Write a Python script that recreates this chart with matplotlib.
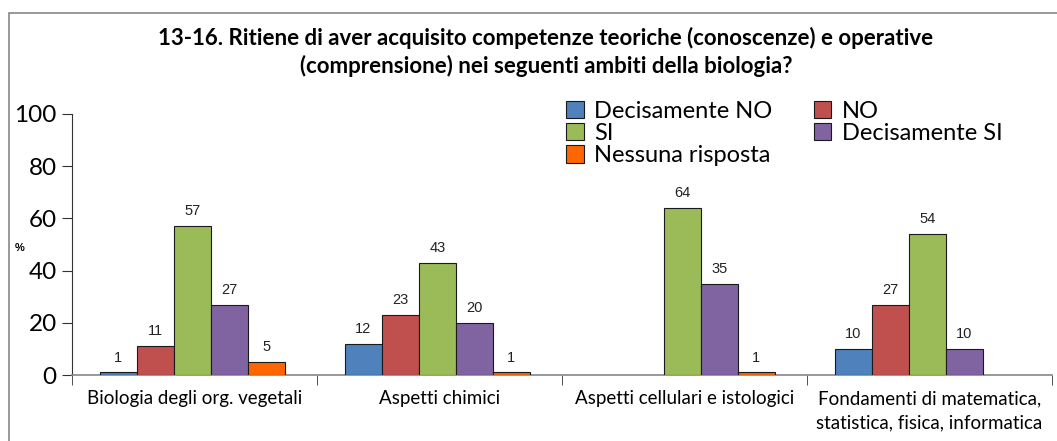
import numpy as np
import matplotlib
matplotlib.use("Agg")
import matplotlib.pyplot as plt
from matplotlib.patches import Rectangle

categories = [
    "Biologia degli org. vegetali",
    "Aspetti chimici",
    "Aspetti cellulari e istologici",
    "Fondamenti di matematica,\nstatistica, fisica, informatica",
]
series_names = ["Decisamente NO", "NO", "SI", "Decisamente SI", "Nessuna risposta"]
decisamente_no = [1, 12, None, 10]
no_vals = [11, 23, None, 27]
si_vals = [57, 43, 64, 54]
decisamente_si = [27, 20, 35, 10]
nessuna = [5, 1, 1, None]
yticks = [0, 20, 40, 60, 80, 100]

colors = ["#4F81BD", "#C0504D", "#9BBB59", "#8064A2", "#FF6600"]
series = [decisamente_no, no_vals, si_vals, decisamente_si, nessuna]

W, H = 1057, 441
fig = plt.figure(figsize=(W / 100, H / 100), dpi=100)
ax = fig.add_axes([72 / W, 1 - 375 / H, (1052 - 72) / W, (375 - 114) / H])

x = np.arange(len(categories))
bw = 0.151
start = -0.5 + 0.114
handles = []
for i, (vals, col, name) in enumerate(zip(series, colors, series_names)):
    xs = [xi for xi, v in zip(x, vals) if v is not None]
    hs = [v for v in vals if v is not None]
    left = np.array(xs) + start + i * bw
    h = ax.bar(left, hs, width=bw, align="edge", color=col, edgecolor="#1a1a1a",
               linewidth=0.8, label=name, zorder=3)
    handles.append(h)
    for lx, v in zip(left, hs):
        ax.text(lx + bw / 2, v + 3, f"{v}", ha="center", va="bottom",
                fontsize=10.5, family="Liberation Sans", color="#222222")

ax.set_xlim(-0.5, len(categories) - 0.5)
ax.set_ylim(0, 100)
ax.set_yticks(yticks)
ax.set_yticklabels([str(t) for t in yticks], family="Lato", fontsize=17.5)
ax.set_xticks(x)
ax.set_xticklabels(categories, family="Lato", fontsize=13.5, linespacing=1.5)
ax.tick_params(axis="x", length=0, pad=11)
ax.set_xticks(np.arange(-0.5, len(categories)), minor=True)
ax.tick_params(axis="x", which="minor", length=7, color="#333333", direction="out")
ax.tick_params(axis="y", length=7, color="#333333", direction="out", pad=4)

for s in ["top", "right"]:
    ax.spines[s].set_visible(False)
ax.spines["left"].set_color("#333333")
ax.spines["bottom"].set_color("#888888")
ax.spines["bottom"].set_linewidth(1.2)

fig.text(15 / W, 1 - 248 / H, "%", fontsize=8, fontweight="bold",
         family="Liberation Sans", ha="left", va="center")

fig.text(546 / W, 1 - 52 / H,
         "13-16. Ritiene di aver acquisito competenze teoriche (conoscenze) e operative\n"
         "(comprensione) nei seguenti ambiti della biologia?",
         ha="center", va="center", fontsize=16, fontweight="bold", family="Lato",
         linespacing=1.3)

# row-wise legend order: matplotlib fills columns first
order = [0, 2, 4, 1, 3]
fig.legend([handles[k] for k in order], [series_names[k] for k in order],
           loc="upper left", bbox_to_anchor=(554 / W, 1 - 89 / H), ncol=2,
           frameon=False, prop={"family": "Lato", "size": 17},
           handlelength=0.75, handleheight=0.75, handletextpad=0.45,
           labelspacing=0.05, columnspacing=1.75, borderpad=0)

fig.add_artist(Rectangle((8.5 / W, -0.05), 1.0, 1.05 - 13.5 / H,
                         transform=fig.transFigure, fill=False,
                         edgecolor="#888888", linewidth=1.2))

fig.savefig("out.png", dpi=100)
